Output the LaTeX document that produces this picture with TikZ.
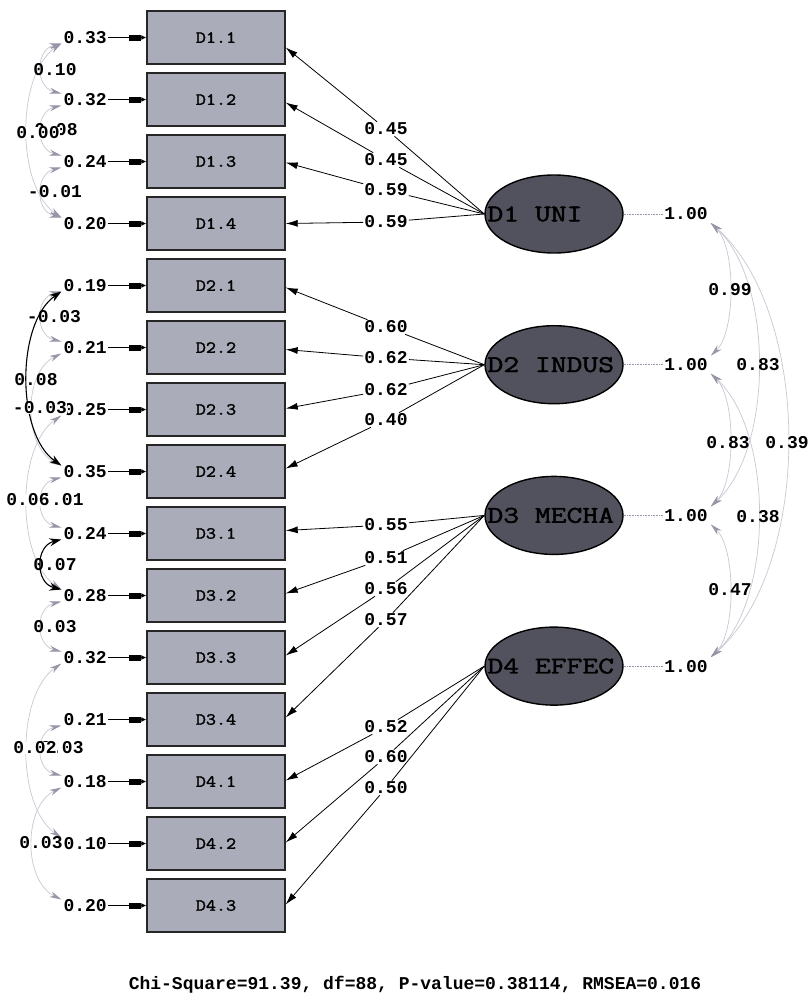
\documentclass[tikz,border=0pt]{standalone}
\usepackage{fontspec}
\usepackage{graphicx}
\setmonofont{Liberation Mono}
\newfontfamily\cour[FakeBold=1.6]{Latin Modern Mono}
\usetikzlibrary{shapes.geometric,arrows.meta,calc}
\definecolor{boxfill}{RGB}{170,172,186}
\definecolor{latfill}{RGB}{82,82,94}
\definecolor{covline}{RGB}{200,200,212}
\definecolor{covhead}{RGB}{150,150,168}
\tikzset{
  obsbox/.style={draw=black!85, line width=1.4pt, fill=boxfill, minimum width=138pt,
    minimum height=53pt, inner sep=0pt, font=\cour\fontsize{17}{19}\selectfont},
  latent/.style={ellipse, draw=black, line width=1.4pt, fill=latfill, minimum width=138pt,
    minimum height=78pt, inner sep=0pt},
  lattext/.style={font=\cour\fontsize{24}{26}\selectfont, inner sep=0pt, text=black},
  num/.style={font=\ttfamily\bfseries\fontsize{18}{20}\selectfont, inner sep=1pt},
  numtop/.style={num, fill=white, inner sep=0pt},
  errarr/.style={line width=0.9pt, -{Rectangle[length=12pt,width=6pt]Latex[length=5pt,width=5pt]}},
  loadarr/.style={line width=0.8pt, -{Latex[length=12pt,width=7pt]}},
  covg/.style={covline, line width=0.7pt, {Stealth[length=12pt,width=6pt,color=covhead]}-{Stealth[length=12pt,width=6pt,color=covhead]}},
  covb/.style={black, line width=1.1pt, {Stealth[length=12pt,width=8pt]}-{Stealth[length=12pt,width=8pt]}},
  fdot/.style={covhead, densely dotted, line width=0.6pt}
}
\begin{document}
\begin{tikzpicture}[x=1pt,y=-1pt]
\useasboundingbox[fill=white] (0,0) rectangle (807,1005);

% observed variables and error variances
\foreach \i/\t/\v in {1/D1.1/0.33,2/D1.2/0.32,3/D1.3/0.24,4/D1.4/0.20,
  5/D2.1/0.19,6/D2.2/0.21,7/D2.3/0.25,8/D2.4/0.35,
  9/D3.1/0.24,10/D3.2/0.28,11/D3.3/0.32,12/D3.4/0.21,
  13/D4.1/0.18,14/D4.2/0.10,15/D4.3/0.20} {
  \pgfmathsetmacro\yy{37.5+62*(\i-1)}
  \node[obsbox] (b\i) at (216,\yy) {\scalebox{1.15}[1]{\t}};
  \node[num, anchor=east] (ev\i) at (108,\yy) {\v};
  \draw[errarr] (ev\i.east) -- (b\i.west);
}

% latent variables
\foreach \k/\t in {1/D1 UNI,2/D2 INDUS,3/D3 MECHA,4/D4 EFFEC} {
  \pgfmathsetmacro\yy{214+150.7*(\k-1)}
  \node[latent] (f\k) at (554,\yy) {};
  \node[lattext, anchor=west] (ft\k) at ($(f\k.west)+(3,0)$) {\scalebox{1.28}[1]{\t}};
  \node[num] (u\k) at (686,\yy) {1.00};
  \draw[fdot] (f\k.east) -- (u\k.west);
}

% loadings
\foreach \n/\v/\yy/\f/\b/\dy in {l1/0.45/129/1/1/10, l2/0.45/160/1/2/3, l3/0.59/190/1/3/1, l4/0.59/222/1/4/0,
  l5/0.60/327/2/5/2, l6/0.62/358/2/6/2, l7/0.62/390/2/7/-1, l8/0.40/420/2/8/-3,
  l9/0.55/525/3/9/-3, l10/0.51/558/3/10/-2, l11/0.56/589/3/11/-2, l12/0.57/620/3/12/-2,
  l13/0.52/727/4/13/-1, l14/0.60/757/4/14/-1, l15/0.50/788/4/15/-1} {
  \node[num] (\n) at (386,\yy) {\v};
  \draw[line width=0.8pt] (f\f.west) -- (\n);
  \draw[loadarr] (\n) -- ($(b\b.east)+(0,\dy)$);
}

% factor correlations (right)
\foreach \i/\j/\c in {1/2/736, 2/3/736, 3/4/736, 1/3/774, 2/4/774, 1/4/813} {
  \pgfmathsetmacro\ya{214+150.7*(\i-1)}
  \pgfmathsetmacro\yb{214+150.7*(\j-1)}
  \pgfmathsetmacro\ca{\ya+0.22*(\yb-\ya)}
  \pgfmathsetmacro\cb{\yb-0.22*(\yb-\ya)}
  \draw[covg] ($(u\i.east)+(2,9)$) .. controls (\c,\ca) and (\c,\cb) .. ($(u\j.east)+(2,-9)$);
}
\node[num] (r12) at (730,290) {0.99};
\node[num] (r13) at (758,365) {0.83};
\node[num] (r23) at (728,443) {0.83};
\node[num] (r14) at (787,443) {0.39};
\node[num] (r24) at (758,517) {0.38};
\node[num] (r34) at (730,590) {0.47};

% error covariances (left)
\foreach \i/\j/\c in {1/2/35, 2/3/35, 1/4/16, 3/4/35, 5/6/35, 6/8/23, 8/9/35,
  7/10/16, 10/11/35, 12/13/35, 11/14/16, 13/15/23} {
  \pgfmathsetmacro\ya{37.5+62*(\i-1)}
  \pgfmathsetmacro\yb{37.5+62*(\j-1)}
  \pgfmathsetmacro\ca{\ya+0.2*(\yb-\ya)}
  \pgfmathsetmacro\cb{\yb-0.2*(\yb-\ya)}
  \draw[covg] ($(ev\i.west)+(-1,6)$) .. controls (\c,\ca) and (\c,\cb) .. ($(ev\j.west)+(-1,-6)$);
}
\foreach \i/\j/\c in {5/8/16, 9/10/35} {
  \pgfmathsetmacro\ya{37.5+62*(\i-1)}
  \pgfmathsetmacro\yb{37.5+62*(\j-1)}
  \pgfmathsetmacro\ca{\ya+0.2*(\yb-\ya)}
  \pgfmathsetmacro\cb{\yb-0.2*(\yb-\ya)}
  \draw[covb] ($(ev\i.west)+(-1,6)$) .. controls (\c,\ca) and (\c,\cb) .. ($(ev\j.west)+(-1,-6)$);
}

\node[num] (c12) at (55,70) {0.10};
\node[num] (c23) at (56,130) {0.08};
\node[numtop] (c14) at (38,133) {0.00};
\node[num] (c34) at (55,192) {-0.01};
\node[num] (c56) at (54,317) {-0.03};
\node[num] (c58) at (36,380) {0.08};
\node[numtop] (c68) at (40,408) {-0.03};
\node[num] (c89) at (62,500) {0.01};
\node[numtop] (c710) at (28,500) {0.06};
\node[num] (c910) at (55,565) {0.07};
\node[num] (c1011) at (55,627) {0.03};
\node[num] (c1213) at (62,748) {0.03};
\node[numtop] (c1114) at (35,748) {0.02};
\node[num] (c1315) at (41,843) {0.03};

% fit statistics
\node[num] (fit) at (415,985) {Chi-Square=91.39, df=88, P-value=0.38114, RMSEA=0.016};
\end{tikzpicture}
\end{document}
